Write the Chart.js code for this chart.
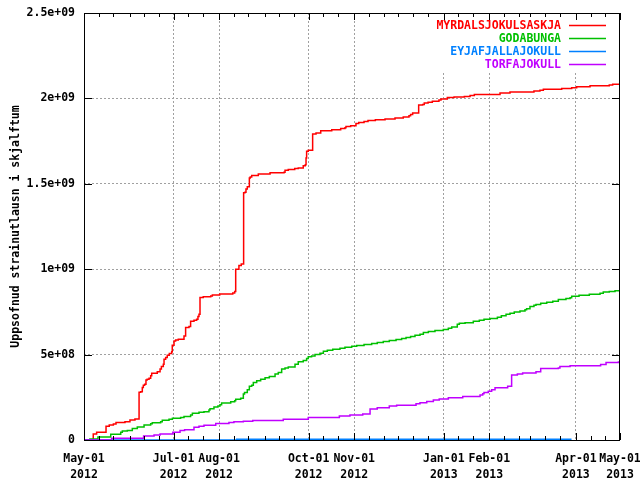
<!DOCTYPE html>
<html><head><meta charset="utf-8">
<script src="https://cdn.jsdelivr.net/npm/chart.js@4.4.0/dist/chart.umd.min.js"></script>
<style>html,body{margin:0;padding:0;background:#fff}</style>
</head><body>
<canvas id="c" width="640" height="480"></canvas>
<script>
// x values are days since 2012-05-01
const seriesNames = ['MYRDALSJOKULSASKJA', 'GODABUNGA', 'EYJAFJALLAJOKULL', 'TORFAJOKULL'];
const seriesColors = ['#ff0000', '#00c000', '#0080ff', '#c000ff'];

const myrdalsDays = [0,6.3,8.6,15,17.2,20,21.8,27.9,31.3,34.7,37.5,38.6,39.7,40.4,41.3,42.2,43,44.3,45.4,46.1,49.9,51.8,52.7,54,54.5,55.6,56.7,58.1,59.7,60.1,61.3,62.4,64.2,68.1,69.2,71.5,72.6,74.9,76.7,77.6,78.3,79,81.2,86.3,87.4,92.4,101.3,102.6,103.3,105.5,107.1,108.7,109.6,110.3,111.2,112.6,113.2,114.2,118.7,126.7,136.2,136.9,139.1,143.5,145.9,149.3,150.7,151.2,151.6,152.7,155.7,158,161.2,168.7,174.8,177.7,178.4,181.6,185.2,187.1,190.7,193.4,198.4,205,211.8,217.4,221.3,222.4,223.8,227.9,230.6,231.7,234.3,237.2,241.7,243.1,247.4,252,259,262.9,265.8,283.3,290.1,306.4,310.5,312.8,325.3,332.1,335.5,344.6,357.7,360,365];
const myrdalsValues = [0,35e6,45e6,80e6,88e6,93e6,103e6,107e6,117e6,123e6,279e6,282e6,308e6,321e6,327e6,352e6,356e6,362e6,376e6,391e6,399e6,415e6,430e6,444e6,473e6,483e6,496e6,506e6,516e6,555e6,580e6,586e6,590e6,609e6,658e6,664e6,695e6,701e6,707e6,723e6,736e6,834e6,839e6,843e6,849e6,855e6,860e6,869e6,999e6,1022e6,1030e6,1447e6,1450e6,1470e6,1482e6,1534e6,1540e6,1548e6,1558e6,1564e6,1567e6,1579e6,1583e6,1589e6,1593e6,1606e6,1612e6,1651e6,1690e6,1696e6,1791e6,1797e6,1811e6,1817e6,1824e6,1828e6,1836e6,1840e6,1853e6,1859e6,1865e6,1871e6,1875e6,1879e6,1885e6,1891e6,1898e6,1906e6,1914e6,1961e6,1964e6,1973e6,1978e6,1984e6,1990e6,1996e6,2005e6,2008e6,2011e6,2017e6,2023e6,2031e6,2037e6,2043e6,2048e6,2054e6,2058e6,2062e6,2068e6,2074e6,2079e6,2083e6,2083e6];

const godabungaDays = [0,4,9.5,18.2,25,26.1,29.5,32.9,36.3,40.9,45.4,46.5,52.2,53.3,57.9,60.2,65.8,68.1,72.6,73.8,78.3,81.7,85.1,85.8,88.5,91.2,92.6,93.7,99.9,102.6,103.3,106.7,108.5,109.3,111.2,112.6,114.2,115.3,117.6,120.3,123.3,126.2,130.1,132.3,134.6,136.9,139.1,143.7,145.9,149.3,151.6,152.7,155,157.3,160.7,163,165.7,169.4,174.3,177.7,182.3,185.7,190.7,195.9,199.7,203.8,207.9,212.5,216.3,219.3,222.4,225.4,228.8,231.1,234.5,239,244.7,248.1,250.4,254.2,255.6,259.5,265.1,269.2,272.4,276.5,281.5,284.2,287.4,290.1,293,296.9,300.3,301.4,303.7,306.4,307.8,311,315.1,319.2,323,328.2,331,332.1,337.1,344.1,351.4,353.6,357.7,361.6,365];
const godabungaValues = [0,6e6,17e6,33e6,45e6,53e6,55e6,68e6,76e6,88e6,95e6,101e6,107e6,115e6,121e6,127e6,132e6,138e6,146e6,156e6,162e6,165e6,175e6,183e6,193e6,199e6,206e6,216e6,224e6,230e6,239e6,245e6,269e6,278e6,294e6,314e6,321e6,337e6,347e6,356e6,364e6,372e6,387e6,395e6,415e6,422e6,428e6,444e6,458e6,465e6,477e6,487e6,492e6,500e6,508e6,520e6,526e6,532e6,537e6,543e6,549e6,553e6,559e6,565e6,571e6,576e6,582e6,588e6,594e6,600e6,606e6,613e6,619e6,629e6,635e6,641e6,647e6,654e6,662e6,678e6,683e6,687e6,695e6,701e6,707e6,711e6,718e6,728e6,736e6,742e6,749e6,755e6,763e6,769e6,781e6,789e6,794e6,800e6,806e6,812e6,822e6,828e6,833e6,841e6,847e6,853e6,859e6,866e6,870e6,874e6,876e6];

const eyjafjallaDays = [0,103,104,332];
const eyjafjallaValues = [0,0,5e6,5e6];

const torfaDays = [0,18.8,40.6,47.7,51.8,60.5,65.4,68.5,74.9,78.3,81.7,89.7,98.7,102.1,108.5,114.9,135.7,152.7,173.9,181.1,189.8,194.8,199.7,207.9,212.9,226.1,228.8,233.4,237.9,241.9,248.1,257.9,269.7,271.5,272.4,275.3,277.6,279.9,288.5,291.2,295.1,298.7,307.8,311,323,324.1,331,351.8,355.5,363.9,365];
const torfaValues = [0,10e6,24e6,29e6,35e6,45e6,55e6,60e6,74e6,80e6,87e6,97e6,103e6,107e6,110e6,114e6,121e6,132e6,140e6,146e6,152e6,181e6,189e6,199e6,204e6,212e6,218e6,226e6,234e6,240e6,247e6,255e6,263e6,271e6,278e6,286e6,294e6,306e6,314e6,380e6,386e6,393e6,399e6,419e6,422e6,430e6,434e6,442e6,454e6,457e6,457e6];

const xTickDays = [0, 61, 92, 153, 184, 245, 276, 335, 365];
const xTickLabels = [['May-01','2012'],['Jul-01','2012'],['Aug-01','2012'],['Oct-01','2012'],['Nov-01','2012'],['Jan-01','2013'],['Feb-01','2013'],['Apr-01','2013'],['May-01','2013']];
const yTickValues = [0, 5e8, 1e9, 1.5e9, 2e9, 2.5e9];
const yTickLabels = ['0', '5e+08', '1e+09', '1.5e+09', '2e+09', '2.5e+09'];
const yTitle = 'Uppsofnud strainutlausn i skjalftum';

// minor tick positions: 1st, 11th, 21st of each month
const start = Date.UTC(2012, 4, 1);
const minorTickDays = [];
for (let k = 0; k <= 12; k++) {
  const yr = 2012 + Math.floor((4 + k) / 12), mo = (4 + k) % 12;
  [1, 11, 21].forEach(d => {
    const v = (Date.UTC(yr, mo, d) - start) / 86400000;
    if (v >= 0 && v <= 365) minorTickDays.push(v);
  });
}

const FAMILY = '"DejaVu Sans Mono", "Liberation Mono", monospace';
const FONT = { family: FAMILY, size: 11.5, weight: 'bold', lineHeight: 1.4 };

const dayArrays = [myrdalsDays, godabungaDays, eyjafjallaDays, torfaDays];
const valArrays = [myrdalsValues, godabungaValues, eyjafjallaValues, torfaValues];
const drawOrder = [3, 2, 1, 0];

const datasets = seriesNames.map((name, i) => ({
  label: name,
  data: dayArrays[i].map((d, j) => ({ x: d, y: valArrays[i][j] })),
  borderColor: seriesColors[i],
  backgroundColor: seriesColors[i],
  borderWidth: 1.5,
  pointRadius: 0,
  fill: false,
  stepped: 'before',
  order: drawOrder[i]
}));

const framePlugin = {
  id: 'frame',
  beforeDatasetsDraw(chart) {
    const { ctx, chartArea: a } = chart;
    ctx.save();
    ctx.strokeStyle = '#000';
    ctx.lineWidth = 1;
    ctx.strokeRect(a.left + 0.5, a.top + 0.5, a.right - a.left - 1, a.bottom - a.top);
    ctx.restore();
  },
  afterDatasetsDraw(chart) {
    const { ctx, chartArea: a } = chart;
    ctx.save();
    ctx.fillStyle = '#fff';
    ctx.fillRect(430, a.top + 1, a.right - 431, 57);
    ctx.font = 'bold 11.5px ' + FAMILY;
    ctx.textAlign = 'right';
    ctx.textBaseline = 'middle';
    chart.data.datasets.forEach((ds, i) => {
      const y = 25 + i * 13;
      ctx.fillStyle = ds.borderColor;
      ctx.fillText(ds.label, 561, y + 1);
      ctx.strokeStyle = ds.borderColor;
      ctx.lineWidth = 1.5;
      ctx.beginPath();
      ctx.moveTo(569, y + 0.5);
      ctx.lineTo(606, y + 0.5);
      ctx.stroke();
    });
    ctx.restore();
  },
  afterDraw(chart) {
    const { ctx, chartArea: a, scales } = chart;
    ctx.save();
    ctx.strokeStyle = '#000';
    ctx.lineWidth = 1;
    ctx.strokeRect(a.left + 0.5, a.top + 0.5, a.right - a.left - 1, a.bottom - a.top);
    ctx.beginPath();
    const tick = (d, len) => {
      const x = Math.round(scales.x.getPixelForValue(d)) + 0.5;
      ctx.moveTo(x, a.bottom); ctx.lineTo(x, a.bottom - len);
      ctx.moveTo(x, a.top); ctx.lineTo(x, a.top + len);
    };
    minorTickDays.forEach(d => tick(d, 4));
    xTickDays.forEach(d => tick(d, 7));
    yTickValues.forEach(v => {
      const y = Math.round(scales.y.getPixelForValue(v)) + 0.5;
      ctx.moveTo(a.left, y); ctx.lineTo(a.left + 8, y);
      ctx.moveTo(a.right, y); ctx.lineTo(a.right - 8, y);
    });
    ctx.stroke();
    ctx.restore();
  }
};

new Chart(document.getElementById('c'), {
  type: 'line',
  data: { datasets },
  options: {
    responsive: false,
    devicePixelRatio: 1,
    animation: false,
    events: [],
    layout: { padding: { top: 13, right: 20, bottom: 0, left: 0 } },
    plugins: { legend: { display: false }, tooltip: { enabled: false } },
    scales: {
      x: {
        type: 'linear', min: 0, max: 365,
        afterBuildTicks: s => { s.ticks = xTickDays.map(v => ({ value: v })); },
        afterFit: s => { s.height = 40; s.paddingLeft = 0; s.paddingRight = 0; },
        ticks: {
          autoSkip: false, maxRotation: 0, minRotation: 0, padding: 11,
          color: '#000', font: FONT,
          callback: v => xTickLabels[xTickDays.indexOf(v)]
        },
        grid: {
          drawTicks: false,
          color: c => (c.tick && c.tick.value > 0 && c.tick.value < 365) ? '#a0a0a0' : 'rgba(0,0,0,0)',
          lineWidth: 1
        },
        border: { display: false, dash: [2, 2] }
      },
      y: {
        type: 'linear', min: 0, max: 2.5e9,
        afterBuildTicks: s => { s.ticks = yTickValues.map(v => ({ value: v })); },
        afterFit: s => { s.width = 84; s.paddingTop = 0; s.paddingBottom = 0; },
        ticks: {
          padding: 9, color: '#000', font: FONT,
          callback: v => yTickLabels[yTickValues.indexOf(v)]
        },
        grid: {
          drawTicks: false,
          color: c => (c.tick && c.tick.value > 0 && c.tick.value < 2.5e9) ? '#a0a0a0' : 'rgba(0,0,0,0)',
          lineWidth: 1
        },
        border: { display: false, dash: [2, 2] },
        title: {
          display: true, text: yTitle, color: '#000',
          font: { family: FAMILY, size: 11.5, weight: 'bold', lineHeight: 1.2 },
          padding: { top: 9, bottom: 0 }
        }
      }
    }
  },
  plugins: [framePlugin]
});
</script>
</body></html>
